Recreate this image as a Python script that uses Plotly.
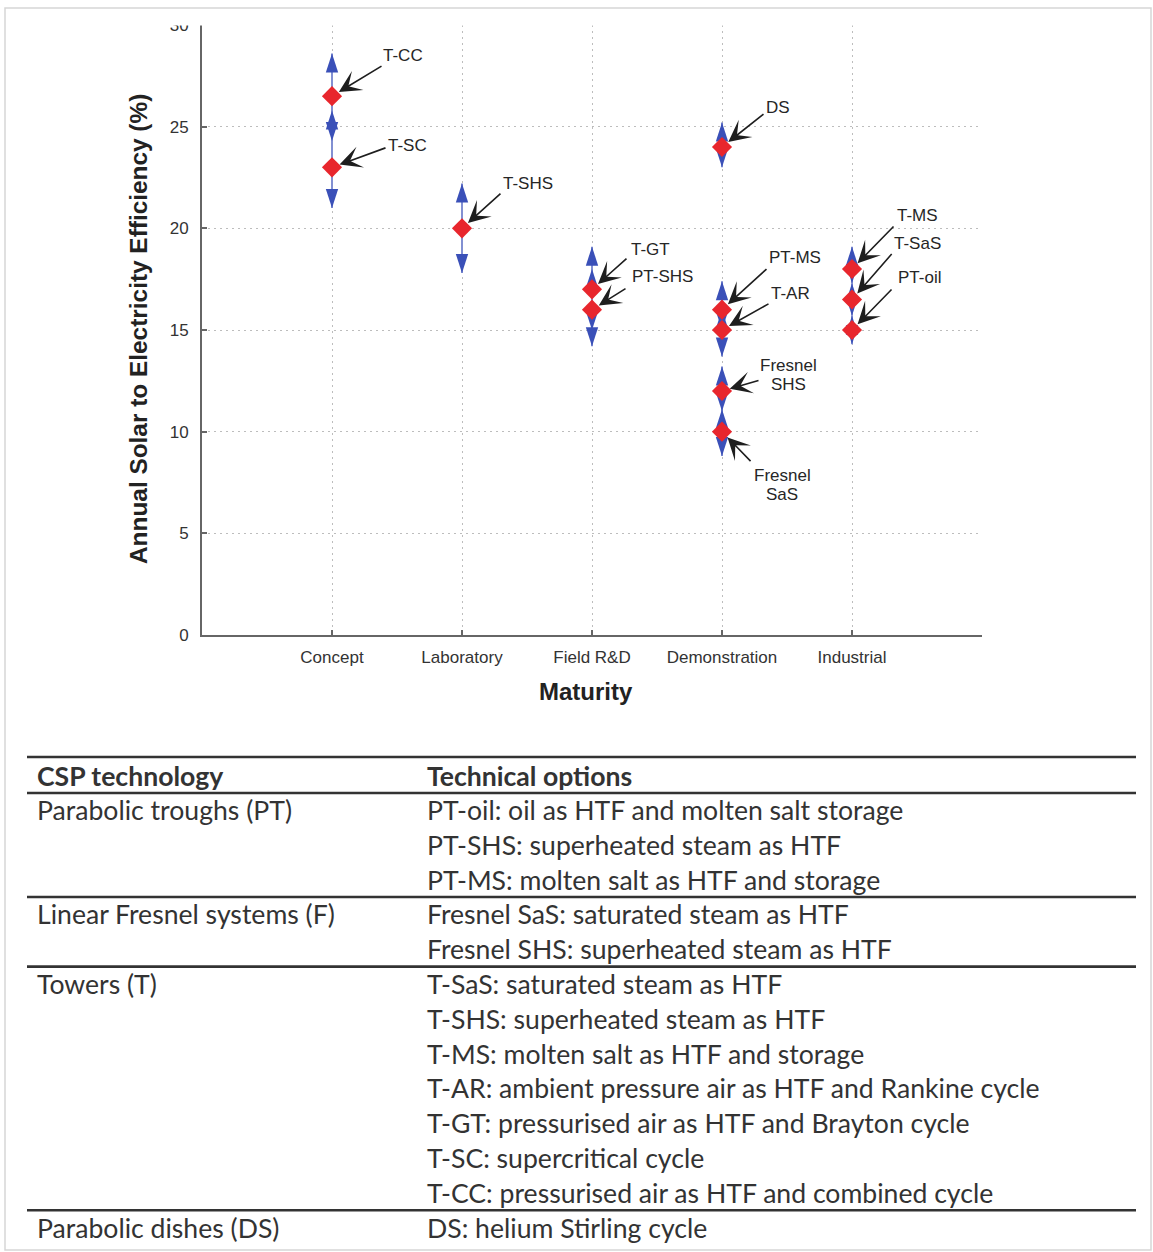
import plotly.graph_objects as go

# ---------------- chart data ----------------
stages = ["Concept", "Laboratory", "Field R&D", "Demonstration", "Industrial"]

technologies = ["T-CC", "T-SC", "T-SHS", "T-GT", "PT-SHS", "DS", "PT-MS", "T-AR",
                "Fresnel SHS", "Fresnel SaS", "T-MS", "T-SaS", "PT-oil"]
tech_stage = ["Concept", "Concept", "Laboratory", "Field R&D", "Field R&D",
              "Demonstration", "Demonstration", "Demonstration", "Demonstration",
              "Demonstration", "Industrial", "Industrial", "Industrial"]
efficiency = [26.5, 23.0, 20.0, 17.0, 16.0, 24.0, 16.0, 15.0, 12.0, 10.0, 18.0, 16.5, 15.0]
efficiency_low = [24.3, 21.0, 17.8, 15.0, 14.2, 23.0, 15.0, 13.7, 11.0, 8.8, 17.3, 15.7, 14.3]
efficiency_high = [28.6, 25.8, 22.2, 19.1, 18.0, 25.2, 17.4, 16.0, 13.2, 11.1, 19.1, 17.3, 15.7]

y_ticks = [0, 5, 10, 15, 20, 25, 30]

# ---------------- table data ----------------
csp_technologies = ["Parabolic troughs (PT)", "Linear Fresnel systems (F)",
                    "Towers (T)", "Parabolic dishes (DS)"]
technical_options = [
    ["PT-oil: oil as HTF and molten salt storage",
     "PT-SHS: superheated steam as HTF",
     "PT-MS: molten salt as HTF and storage"],
    ["Fresnel SaS: saturated steam as HTF",
     "Fresnel SHS: superheated steam as HTF"],
    ["T-SaS: saturated steam as HTF",
     "T-SHS: superheated steam as HTF",
     "T-MS: molten salt as HTF and storage",
     "T-AR: ambient pressure air as HTF and Rankine cycle",
     "T-GT: pressurised air as HTF and Brayton cycle",
     "T-SC: supercritical cycle",
     "T-CC: pressurised air as HTF and combined cycle"],
    ["DS: helium Stirling cycle"],
]
table_headers = ["CSP technology", "Technical options"]

# ---------------- styling / placement ----------------
RED = "#e8262d"
BLUE = "#3a50b8"
SHAFT = "#8290d2"
TEXT = "#262626"
CHART_FONT = "Liberation Sans, Arial, sans-serif"
TABLE_FONT = "Lato, sans-serif"

W, H = 1153, 1252
M_L, M_R, M_T, M_B = 202, 171, 25, 617
PLOT_W = W - M_L - M_R
PLOT_H = H - M_T - M_B

# label text centre and arrow tail, as pixel offsets from each diamond
LABEL_PLACEMENT = {
    "T-CC":        dict(text=(71, -41), tail=(51, -31)),
    "T-SC":        dict(text=(75, -22), tail=(55, -20)),
    "T-SHS":       dict(text=(66, -45), tail=(40, -36)),
    "T-GT":        dict(text=(58, -40), tail=(36, -32)),
    "PT-SHS":      dict(text=(70, -33), tail=(35, -22)),
    "DS":          dict(text=(56, -40), tail=(43, -34)),
    "PT-MS":       dict(text=(73, -52), tail=(46, -42)),
    "T-AR":        dict(text=(68, -37), tail=(48, -27)),
    "Fresnel SHS": dict(text=(66, -16), tail=(38, -11)),
    "Fresnel SaS": dict(text=(60, 53), tail=(30, 31)),
    "T-MS":        dict(text=(65, -54), tail=(43, -44)),
    "T-SaS":       dict(text=(65, -56), tail=(41, -47)),
    "PT-oil":      dict(text=(67, -53), tail=(41, -42)),
}


def paper_x(px):
    return (px - M_L) / PLOT_W


def paper_y(py):
    return (H - M_B - py) / PLOT_H


stage_pos = {s: i + 1 for i, s in enumerate(stages)}
xs = [stage_pos[s] for s in tech_stage]

fig = go.Figure()

# range shafts
shaft_x, shaft_y = [], []
for x, lo, hi in zip(xs, efficiency_low, efficiency_high):
    shaft_x += [x, x, None]
    shaft_y += [lo, hi, None]
fig.add_trace(go.Scatter(x=shaft_x, y=shaft_y, mode="lines",
                         line=dict(color=SHAFT, width=2), hoverinfo="skip",
                         showlegend=False))

# arrow heads at the range ends
fig.add_trace(go.Scatter(x=xs, y=efficiency_high, mode="markers",
                         marker=dict(symbol="arrow", size=20, angle=0, color=BLUE,
                                     line=dict(width=0)),
                         hoverinfo="skip", showlegend=False))
fig.add_trace(go.Scatter(x=xs, y=efficiency_low, mode="markers",
                         marker=dict(symbol="arrow", size=20, angle=180, color=BLUE,
                                     line=dict(width=0)),
                         hoverinfo="skip", showlegend=False))

# efficiency estimates
fig.add_trace(go.Scatter(x=xs, y=efficiency, mode="markers", text=technologies,
                         marker=dict(symbol="diamond", size=15.5, color=RED,
                                     line=dict(width=0)),
                         hovertemplate="%{text}: %{y}%<extra></extra>",
                         showlegend=False))

annotations = []
for name, x, y in zip(technologies, xs, efficiency):
    place = LABEL_PLACEMENT[name]
    tx, ty = place["text"]
    lines = name.split(" ") if name.startswith("Fresnel") else [name]
    n = len(lines)
    for i, line in enumerate(lines):
        annotations.append(dict(
            x=x, y=y, xref="x", yref="y", text=line, showarrow=False,
            xshift=tx, yshift=-(ty + (i - (n - 1) / 2) * 19),
            font=dict(family=CHART_FONT, size=17, color=TEXT),
            xanchor="center", yanchor="middle"))
    ax, ay = place["tail"]
    annotations.append(dict(
        x=x, y=y, xref="x", yref="y", text="", showarrow=True,
        ax=ax, ay=ay, axref="pixel", ayref="pixel",
        arrowhead=3, arrowsize=2.3, arrowwidth=1.6, arrowcolor="#1e1e1e",
        standoff=8))

# axis titles
annotations.append(dict(
    x=paper_x(138), y=paper_y(329), xref="paper", yref="paper",
    text="<b>Annual Solar to Electricity Efficiency (%)</b>", textangle=-90,
    showarrow=False, xanchor="center", yanchor="middle",
    font=dict(family=CHART_FONT, size=24.4, color="#222222")))
annotations.append(dict(
    x=paper_x(586), y=paper_y(691), xref="paper", yref="paper",
    text="<b>Maturity</b>", showarrow=False, xanchor="center", yanchor="middle",
    font=dict(family=CHART_FONT, size=24, color="#222222")))

# ---------------- table below the chart ----------------
shapes = []
TABLE_X0, TABLE_X1 = 27, 1136
COL1_X, COL2_X = 35, 425
HEADER_Y = 776
ROW0_Y, ROW_STEP = 810, 34.8


def rule(py):
    shapes.append(dict(type="line", xref="paper", yref="paper",
                       x0=paper_x(TABLE_X0), x1=paper_x(TABLE_X1),
                       y0=paper_y(py), y1=paper_y(py),
                       line=dict(color="#333333", width=2.6), layer="above"))


def cell(text, px, py, bold=False):
    annotations.append(dict(
        x=paper_x(px), y=paper_y(py), xref="paper", yref="paper",
        text=f"<b>{text}</b>" if bold else text, showarrow=False,
        xanchor="left", yanchor="middle",
        font=dict(family=TABLE_FONT, size=26.6, color="#333333")))


rule(757)
cell(table_headers[0], COL1_X, HEADER_Y, bold=True)
cell(table_headers[1], COL2_X, HEADER_Y, bold=True)
rule((HEADER_Y + ROW0_Y) / 2)

row = 0
for g, (group, opts) in enumerate(zip(csp_technologies, technical_options)):
    cell(group, COL1_X, ROW0_Y + row * ROW_STEP)
    for opt in opts:
        cell(opt, COL2_X, ROW0_Y + row * ROW_STEP)
        row += 1
    if g < len(csp_technologies) - 1:
        rule(ROW0_Y + (row - 0.5) * ROW_STEP)

# page frame and the clipped strip above the axes
shapes.append(dict(type="rect", xref="paper", yref="paper",
                   x0=paper_x(100), x1=paper_x(1060),
                   y0=paper_y(25.5), y1=paper_y(9.5),
                   fillcolor="white", line=dict(width=0), layer="above"))
shapes.append(dict(type="rect", xref="paper", yref="paper",
                   x0=paper_x(5), x1=paper_x(1151),
                   y0=paper_y(1250), y1=paper_y(8),
                   fillcolor="rgba(0,0,0,0)",
                   line=dict(color="#d6d6d6", width=1.5), layer="above"))

fig.update_layout(
    width=W, height=H,
    margin=dict(l=M_L, r=M_R, t=M_T, b=M_B),
    paper_bgcolor="white", plot_bgcolor="white",
    showlegend=False,
    annotations=annotations,
    shapes=shapes,
    xaxis=dict(
        range=[0, 6], tickmode="array",
        tickvals=list(range(0, len(stages) + 2)),
        ticktext=[""] + stages + [""],
        showgrid=True, gridcolor="#bdbdbd", griddash="2px,4px", gridwidth=1.2,
        zeroline=False, showline=True, linecolor="#666666", linewidth=2,
        ticks="inside", ticklen=5, tickcolor="#666666", tickwidth=1.5,
        ticklabelstandoff=6,
        tickfont=dict(family=CHART_FONT, size=17, color="#333333"),
        fixedrange=True),
    yaxis=dict(
        range=[0, 30], tickmode="array", tickvals=y_ticks,
        ticktext=[str(v) for v in y_ticks],
        showgrid=True, gridcolor="#bdbdbd", griddash="2px,4px", gridwidth=1.2,
        zeroline=False, showline=True, linecolor="#666666", linewidth=2,
        ticks="inside", ticklen=5, tickcolor="#666666", tickwidth=1.5,
        ticklabelstandoff=8,
        tickfont=dict(family=CHART_FONT, size=17, color="#333333"),
        fixedrange=True),
)

fig.write_html("out.html")
